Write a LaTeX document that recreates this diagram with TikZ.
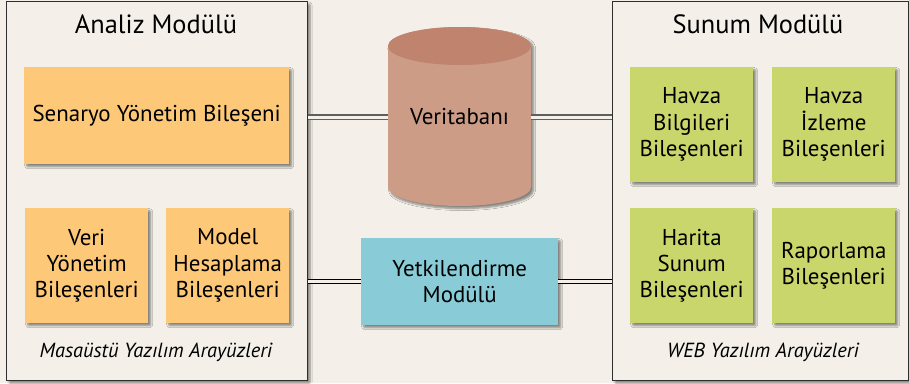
\documentclass[tikz,border=0pt]{standalone}
\usepackage{fontspec}
\setmainfont{PT Sans}
\usetikzlibrary{shadows.blur}

\definecolor{paper}{HTML}{F4F0E9}
\definecolor{frame}{HTML}{2E2E2E}
\definecolor{orangebox}{HTML}{FDC877}
\definecolor{greenbox}{HTML}{C8D66B}
\definecolor{cyanbox}{HTML}{89CCD7}
\definecolor{dbbody}{HTML}{CC9C87}
\definecolor{dbtop}{HTML}{C0836D}
\definecolor{linkgray}{HTML}{5E5E5E}

\tikzset{
  softshadow/.style={blur shadow={shadow xshift=2.5bp, shadow yshift=-2.5bp,
      shadow blur steps=6, shadow blur extra rounding=1bp, shadow opacity=45}},
  panel/.style={draw=frame, line width=1.2bp, fill=paper, softshadow,
      minimum width=#1, inner sep=0pt, anchor=north west},
  boxfont/.style={font=\fontsize{23}{26.5}\selectfont},
  part/.style={fill=#1, softshadow, inner sep=0pt, anchor=north west,
      align=center, boxfont},
  heading/.style={font=\fontsize{26.5}{30}\selectfont},
  caption/.style={font=\fontsize{20.5}{24}\selectfont\itshape},
  link/.style={double distance=3bp, line width=1.1bp},
}

\begin{document}
\begin{tikzpicture}[x=1bp, y=-1bp]
  \useasboundingbox (0,0) rectangle (909,383);
  \fill[paper] (0,0) rectangle (909,383);

  % module panels
  \node[panel=301bp, minimum height=379bp] (lp) at (6,1) {};
  \node[panel=296bp, minimum height=379bp] (rp) at (612,1) {};

  \node[heading] (lt) at (156,24) {Analiz Modülü};
  \node[heading] (rt) at (758,24) {Sunum Modülü};

  % analysis components
  \node[part=orangebox, minimum width=265bp, minimum height=97bp] (sen) at (24,67)
    {Senaryo Yönetim Bileşeni};
  \node[part=orangebox, minimum width=123bp, minimum height=115bp] (veri) at (25,208)
    {Veri\\Yönetim\\Bileşenleri};
  \node[part=orangebox, minimum width=123bp, minimum height=115bp] (model) at (166,208)
    {Model\\Hesaplama\\Bileşenleri};
  \node[caption] (lc) at (156,352) {Masaüstü Yazılım Arayüzleri};

  % presentation components
  \node[part=greenbox, minimum width=123bp, minimum height=115bp] (hb) at (630,67)
    {Havza\\Bilgileri\\Bileşenleri};
  \node[part=greenbox, minimum width=123bp, minimum height=115bp] (hi) at (772,67)
    {Havza\\İzleme\\Bileşenleri};
  \node[part=greenbox, minimum width=123bp, minimum height=115bp] (hs) at (630,208)
    {Harita\\Sunum\\Bileşenleri};
  \node[part=greenbox, minimum width=123bp, minimum height=115bp] (rb) at (772,208)
    {Raporlama\\Bileşenleri};
  \node[caption] (rc) at (763,352) {WEB Yazılım Arayüzleri};

  % database cylinder
  \path[fill=dbbody, softshadow]
    (388,46) -- (388,187)
    arc[start angle=180, end angle=0, x radius=71.5, y radius=19]
    -- (531,46)
    arc[start angle=0, end angle=-180, x radius=71.5, y radius=19] -- cycle;
  \fill[dbtop] (459.5,46) ellipse[x radius=71.5, y radius=19];
  \node[minimum width=143bp, minimum height=2bp, inner sep=0pt, boxfont]
    (db) at (459.5,117) {Veritabanı};

  % authorisation module
  \node[part=cyanbox, minimum width=197bp, minimum height=87bp] (auth) at (361,238)
    {Yetkilendirme\\Modülü};

  % connections
  \draw[link, draw=linkgray, double=paper] (db.west -| lp.east) -- (db.west);
  \draw[link, draw=linkgray, double=paper] (db.east) -- (db.east -| rp.west);
  \draw[link, draw=black, double=paper] (auth.west -| lp.east) -- (auth.west);
  \draw[link, draw=black, double=paper] (auth.east) -- (auth.east -| rp.west);
\end{tikzpicture}
\end{document}
